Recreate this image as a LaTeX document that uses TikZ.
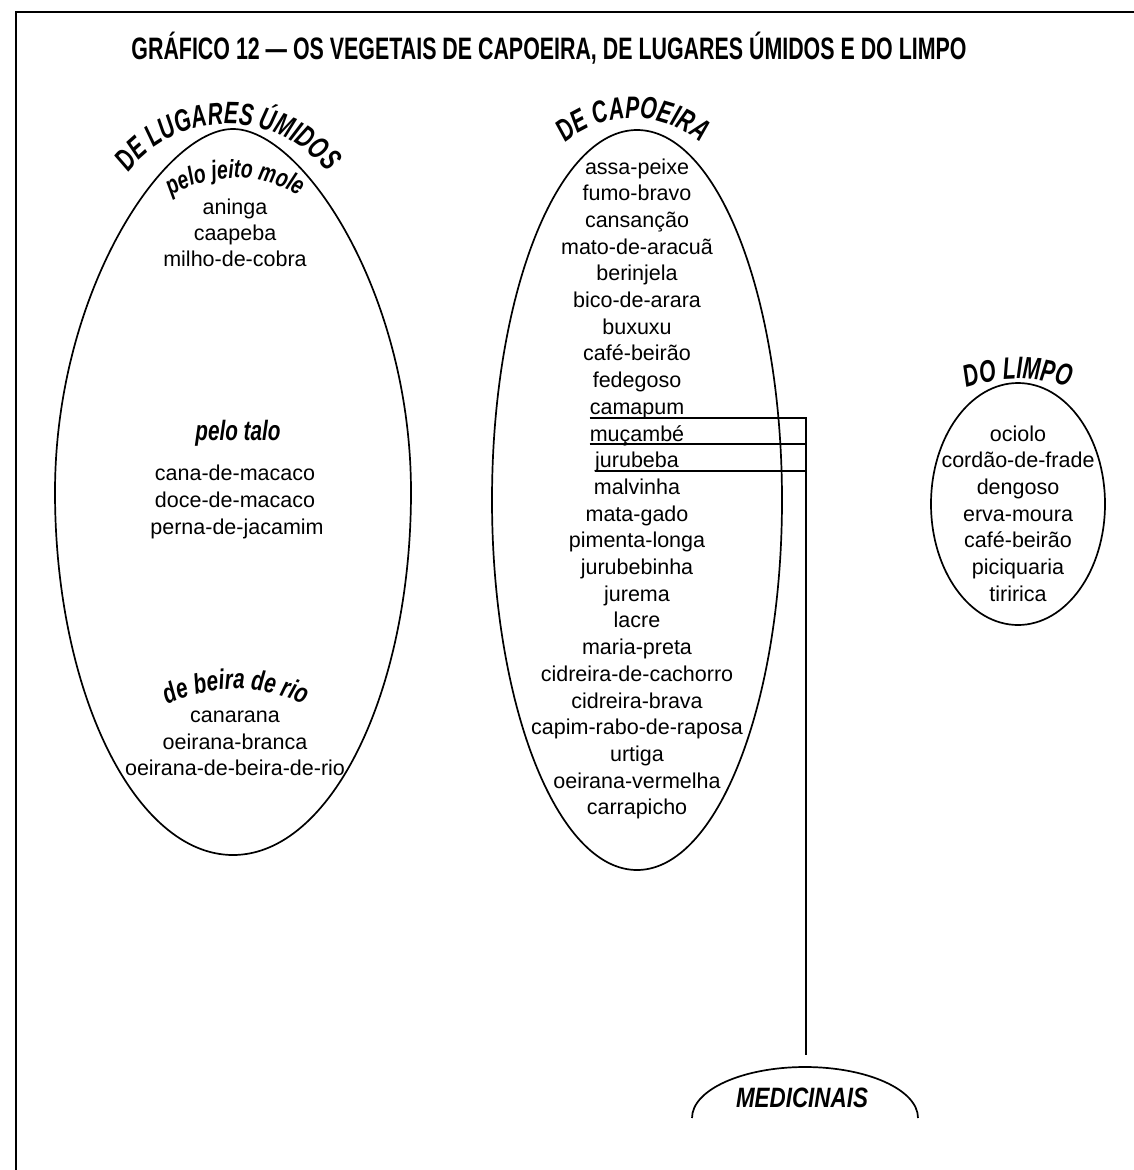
\documentclass[tikz,border=0pt]{standalone}
\usepackage{fontspec}
\setmainfont{Liberation Sans}
\newfontfamily\titlefam{Liberation Sans}[FakeStretch=0.69]
\newfontfamily\headfam{Liberation Sans}[FakeStretch=0.68]
\newfontfamily\subfam{Liberation Sans}[FakeStretch=0.74]
\newfontfamily\medfam{Liberation Sans}[FakeStretch=0.8]
\usetikzlibrary{shapes.geometric,decorations.text}
\newcommand\capsfont{\headfam\bfseries\itshape\fontsize{31}{33}\selectfont}
\newcommand\subfont{\subfam\bfseries\itshape\fontsize{28}{30}\selectfont}
\newcommand\topsubfont{\subfam\bfseries\itshape\fontsize{26}{28}\selectfont}

\begin{document}
\begin{tikzpicture}[x=1pt,y=-1pt,
  outline/.style={draw,line width=1.7pt},
  group/.style={outline,ellipse,inner sep=0pt},
  plant/.style={font=\fontsize{21.5}{26}\selectfont,inner sep=0pt,anchor=base},
  subhead/.style={font=\subfont,inner sep=0pt,anchor=base},
  link/.style={line width=1.7pt},
  curved/.style={decorate,decoration={text along path,text align=center,text={#1}}}]
\useasboundingbox (0,0) rectangle (1134,1170);
\fill[white] (0,0) rectangle (1134,1170);

% frame
\draw[line width=1.5pt] (16,1170) -- (16,12) -- (1134,12);

% title
\node[font=\titlefam\bfseries\fontsize{31}{34}\selectfont,anchor=base,inner sep=0pt]
  (title) at (549,59) {GRÁFICO 12 — OS VEGETAIS DE CAPOEIRA, DE LUGARES ÚMIDOS E DO LIMPO};

% the three groups (the first one a little pointed at the top)
\coordinate (umidos) at (233,492);
\draw[outline] (233,129) .. controls (302,129) and (411,292) .. (411,492)
  .. controls (411,692) and (331,855) .. (233,855)
  .. controls (135,855) and (55,692) .. (55,492)
  .. controls (55,292) and (164,129) .. cycle;
\node[group,minimum width=290,minimum height=740] (capoeira) at (637,500) {};
\node[group,minimum width=174,minimum height=242] (limpo) at (1018,504) {};

% group labels along arcs
\path[curved={|\capsfont|DE LUGARES ÚMIDOS}]
  (228,250) ++(200:126) arc[start angle=200,end angle=340,radius=126];
\path[curved={|\capsfont|DE CAPOEIRA}]
  (633,222) ++(210:104) arc[start angle=210,end angle=330,radius=104];
\path[curved={|\capsfont|DO LIMPO}]
  (1018,539) ++(235:160) arc[start angle=235,end angle=305,radius=160];

% DE LUGARES ÚMIDOS
\path[curved={|\topsubfont|pelo jeito mole}]
  (235,302) ++(225:124) arc[start angle=225,end angle=315,radius=124];
\node[plant] (u1) at (235,214) {aninga};
\node[plant] (u2) at (235,240) {caapeba};
\node[plant] (u3) at (235,266) {milho-de-cobra};

\node[subhead] (talo) at (238,440) {pelo talo};
\node[plant] (u4) at (235,480) {cana-de-macaco};
\node[plant] (u5) at (235,507) {doce-de-macaco};
\node[plant] (u6) at (237,534) {perna-de-jacamim};

\path[curved={|\subfont|de beira de rio}]
  (236,846) ++(230:157) arc[start angle=230,end angle=310,radius=157];
\node[plant] (u7) at (235,722) {canarana};
\node[plant] (u8) at (235,749) {oeirana-branca};
\node[plant] (u9) at (235,775) {oeirana-de-beira-de-rio};

% DE CAPOEIRA
\foreach \name [count=\i from 0] in {assa-peixe,fumo-bravo,cansanção,mato-de-aracuã,
  berinjela,bico-de-arara,buxuxu,café-beirão,fedegoso,camapum,muçambé,jurubeba,
  malvinha,mata-gado,pimenta-longa,jurubebinha,jurema,lacre,maria-preta,
  cidreira-de-cachorro,cidreira-brava,capim-rabo-de-raposa,urtiga,
  oeirana-vermelha,carrapicho}
  \node[plant] (c\i) at (637,174+\i*26.7) {\name};

% DO LIMPO
\foreach \name [count=\i from 0] in {ociolo,cordão-de-frade,dengoso,erva-moura,
  café-beirão,piciquaria,tiririca}
  \node[plant] (l\i) at (1018,441+\i*26.7) {\name};

% MEDICINAIS
\node[font=\medfam\bfseries\itshape\fontsize{28}{30}\selectfont,anchor=base,inner sep=0pt]
  (med) at (802,1107) {MEDICINAIS};
\draw[outline] (692,1118) arc[start angle=180,end angle=360,x radius=113,y radius=51];
\coordinate (medtop) at (806,1055);

% the medicinal plants joined to MEDICINAIS
\coordinate (bus) at (806,0);
\coordinate (m9) at ([yshift=-4pt]c9.base west);
\coordinate (m10) at ([yshift=-3pt]c10.base west);
\coordinate (m11) at ([yshift=-3pt]c11.base west);
\draw[link] (m9) -- (m9 -| bus) -- (medtop);
\draw[link] (m10) -- (m10 -| bus);
\draw[link] (m11) -- (m11 -| bus);
\end{tikzpicture}
\end{document}
